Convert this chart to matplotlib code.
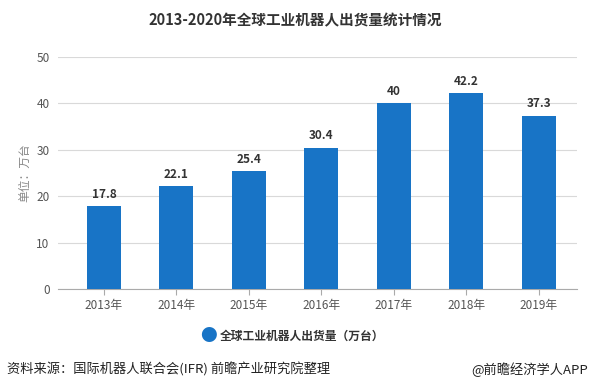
import matplotlib
matplotlib.use("Agg")
import matplotlib.pyplot as plt

plt.rcParams['font.family'] = ['Noto Sans CJK SC', 'DejaVu Sans']

years = ['2013年', '2014年', '2015年', '2016年', '2017年', '2018年', '2019年']
values = [17.8, 22.1, 25.4, 30.4, 40, 42.2, 37.3]
value_labels = ['17.8', '22.1', '25.4', '30.4', '40', '42.2', '37.3']
yticks = [0, 10, 20, 30, 40, 50]

blue = '#1874c6'
fig = plt.figure(figsize=(5.91, 3.90), dpi=100)
ax = fig.add_axes([0.098, 0.259, 0.878, 0.595])
x = list(range(len(years)))
ax.bar(x, values, width=0.47, color=blue, zorder=3)
for xi, v, lab in zip(x, values, value_labels):
    ax.text(xi, v + 1.2, lab, ha='center', va='bottom', fontsize=8.5,
            fontweight='bold', color='#333333')
ax.set_xlim(-0.634, 6.524)
ax.set_ylim(0, 50)
ax.set_yticks(yticks)
ax.set_yticklabels([str(t) for t in yticks], fontsize=8.5, color='#555555')
ax.set_xticks(x)
ax.set_xticklabels(years, fontsize=8.5, color='#555555')
ax.yaxis.grid(True, color='#d9d9d9', linewidth=0.8, zorder=0)
for s in ['top', 'right', 'left']:
    ax.spines[s].set_visible(False)
ax.spines['bottom'].set_color('#aaaaaa')
ax.tick_params(axis='y', length=0, pad=6)
ax.tick_params(axis='x', length=4, color='#aaaaaa', pad=3)
ax.set_ylabel('单位：万台', fontsize=8.5, color='#888888', labelpad=4)

fig.text(0.5, 0.947, '2013-2020年全球工业机器人出货量统计情况', ha='center', va='center',
         fontsize=10.5, fontweight='bold', color='#333333')

fig.text(0.352, 0.138, '●', fontsize=12, color=blue, ha='center', va='center')
fig.text(0.372, 0.138, '全球工业机器人出货量（万台）', fontsize=8.5, fontweight='bold',
         color='#333333', ha='left', va='center')

fig.text(0.012, 0.053, '资料来源：国际机器人联合会(IFR) 前瞻产业研究院整理', fontsize=9.5,
         color='#222222', ha='left', va='center')
fig.text(0.995, 0.053, '@前瞻经济学人APP', fontsize=9.5, color='#222222',
         ha='right', va='center')

fig.savefig('out.png', dpi=100)
